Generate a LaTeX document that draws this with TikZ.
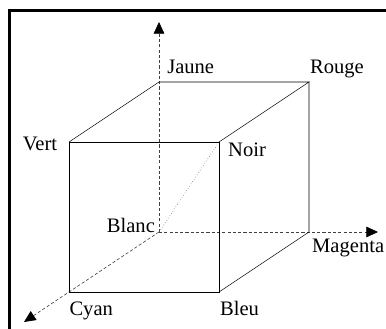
\documentclass[tikz,border=0pt]{standalone}
\usepackage{fontspec}
\setmainfont{Liberation Serif}
\usetikzlibrary{arrows.meta}

\begin{document}
\begin{tikzpicture}[
  edge/.style={line width=0.5pt},
  axis/.style={line width=0.6pt, black!75, dash pattern=on 3pt off 2pt, -{Triangle[length=11pt,width=10pt,black]}},
  tag/.style={inner sep=0pt, font=\fontsize{19.5}{22}\selectfont}
]
\useasboundingbox (-2.3,-1.233) rectangle (10.567,9.733);

% frame (top and left sides)
\draw[line width=2.8pt] (-1.973,-1.3) -- (-1.973,9.373) -- (10.7,9.373);

% front face
\coordinate (Cyan) at (0,0);
\coordinate (Bleu) at (5,0);
\coordinate (Noir) at (5,5);
\coordinate (Vert) at (0,5);

% back face
\coordinate (Blanc) at (3,2);
\coordinate (Magenta) at (8,2);
\coordinate (Rouge) at (8,7);
\coordinate (Jaune) at (3,7);

% axis ends
\coordinate (Xend) at (10.3,2);
\coordinate (Yend) at (3,9);
\coordinate (Zend) at (-1.5,-1);

% axes
\draw[axis] (Blanc) -- (Yend);
\draw[axis] (Blanc) -- (Xend);
\draw[axis] (Blanc) -- (Zend);
\draw[gray, line width=0.6pt, dotted] (Blanc) -- (Noir);

% visible edges
\draw[edge] (Cyan) -- (Bleu) -- (Noir) -- (Vert) -- (Cyan);
\draw[edge] (Vert) -- (Jaune) -- (Rouge) -- (Noir);
\draw[edge] (Rouge) -- (Magenta) -- (Bleu);

% labels
\node[tag, anchor=base west] (tJaune) at ([shift={(0.27,0.28)}]Jaune) {Jaune};
\node[tag, anchor=base west] (tRouge) at ([shift={(0.03,0.27)}]Rouge) {Rouge};
\node[tag, anchor=base east] (tVert) at ([shift={(-0.39,-0.27)}]Vert) {Vert};
\node[tag, anchor=base west] (tNoir) at ([shift={(0.3,-0.49)}]Noir) {Noir};
\node[tag, anchor=base east] (tBlanc) at ([shift={(-0.13,-0.02)}]Blanc) {Blanc};
\node[tag, anchor=base west] (tMagenta) at ([shift={(0.1,-0.68)}]Magenta) {Magenta};
\node[tag, anchor=base west] (tCyan) at ([shift={(0.01,-0.77)}]Cyan) {Cyan};
\node[tag, anchor=base west] (tBleu) at ([shift={(0.03,-0.77)}]Bleu) {Bleu};
\end{tikzpicture}
\end{document}
